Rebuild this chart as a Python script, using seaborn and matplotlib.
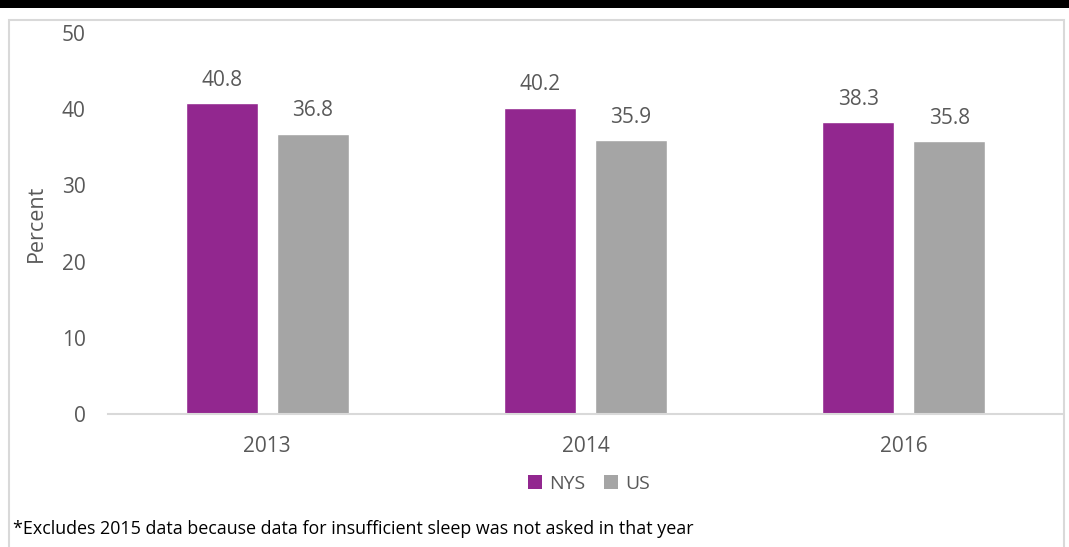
import matplotlib
matplotlib.use("Agg")
import matplotlib.pyplot as plt
from matplotlib.patches import Rectangle
import seaborn as sns
import pandas as pd

years = ["2013", "2014", "2016"]
nys = [40.8, 40.2, 38.3]
us = [36.8, 35.9, 35.8]
series = ["NYS", "US"]
colors = ["#92278F", "#A5A5A5"]
footnote = "*Excludes 2015 data because data for insufficient sleep was not asked in that year"

df = pd.DataFrame({
    "Year": years * 2,
    "Group": ["NYS"] * len(years) + ["US"] * len(years),
    "Percent": nys + us,
})

sns.set_theme(style="white")
plt.rcParams["font.family"] = ["Open Sans", "DejaVu Sans"]
text_color = "#595959"

fig = plt.figure(figsize=(10.69, 5.47), dpi=100)
# dark band along the top and a thin frame round the chart
fig.patches.append(Rectangle((0, 1 - 8 / 547), 1, 8 / 547, transform=fig.transFigure,
                             facecolor="black", edgecolor="none", zorder=0))
fig.patches.append(Rectangle((9 / 1069, -0.05), (1064 - 9) / 1069, (537 - 10) / 547 + 0.05,
                             transform=fig.transFigure, facecolor="none",
                             edgecolor="#D9D9D9", linewidth=1.5, zorder=0))

ax = fig.add_axes([108 / 1069, (547 - 414) / 547, (1063 - 108) / 1069, (414 - 33) / 547])
sns.barplot(data=df, x="Year", y="Percent", hue="Group", order=years, hue_order=series,
            palette=colors, width=0.572, gap=0.21, saturation=1, ax=ax, legend=False)

ax.set_ylim(0, 50)
ax.set_yticks(range(0, 51, 10))
ax.set_xlim(-0.5, len(years) - 0.5)
ax.set_xlabel("")
ax.set_ylabel("Percent", fontsize=15.5, color=text_color)
ax.yaxis.set_label_coords((47 - 108) / (1063 - 108), 0.5)
ax.tick_params(axis="both", length=0, labelsize=15, labelcolor=text_color)
ax.tick_params(axis="y", pad=16)
ax.tick_params(axis="x", pad=16)
for side in ["top", "right", "left"]:
    ax.spines[side].set_visible(False)
ax.spines["bottom"].set_color("#D9D9D9")
ax.spines["bottom"].set_linewidth(1.5)
ax.grid(False)

for container in ax.containers:
    ax.bar_label(container, fmt="%.1f", padding=9, fontsize=15, color=text_color)

handles = [Rectangle((0, 0), 1, 1, facecolor=c, edgecolor="none") for c in colors]
fig.legend(handles, series, loc="center", bbox_to_anchor=(589 / 1069, 1 - 484 / 547),
           ncol=2, frameon=False, fontsize=14, handlelength=0.7, handleheight=0.7,
           handletextpad=0.35, columnspacing=1.0, labelcolor=text_color)

fig.text(13 / 1069, 1 - 529 / 547, footnote, fontsize=12.9, color="black", va="center", ha="left")

fig.savefig("out.png", dpi=100)
